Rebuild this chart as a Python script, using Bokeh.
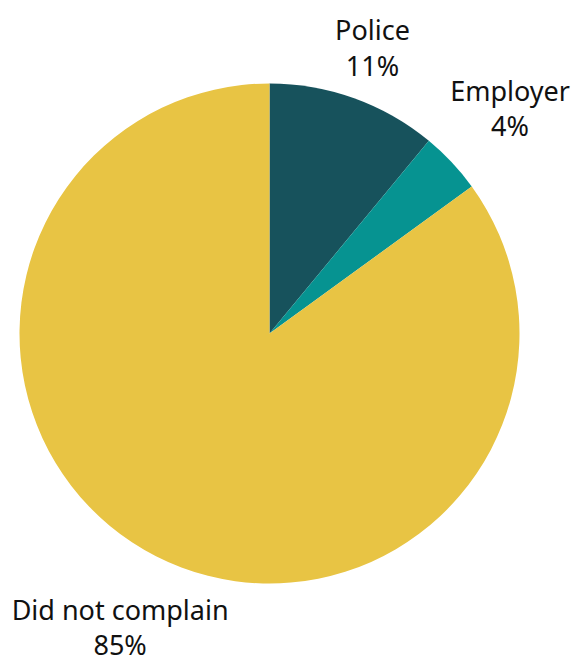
import math
from bokeh.plotting import figure
from bokeh.models import Range1d, ColumnDataSource
from bokeh.core.properties import value
from bokeh.embed import file_html
from bokeh.resources import INLINE

categories = ["Police", "Employer", "Did not complain"]
shares = [11, 4, 85]
colors = ["#17525C", "#069391", "#E8C444"]

W, H = 571, 659
cx, cy, R = 269, H - 333, 250
label_dist = [304, 330, 329]

starts, ends, lx, ly, labels = [], [], [], [], []
cum = 0.0
total = float(sum(shares))
for cat, s, d in zip(categories, shares, label_dist):
    a0 = math.pi / 2 - 2 * math.pi * cum / total
    a1 = math.pi / 2 - 2 * math.pi * (cum + s) / total
    starts.append(a0)
    ends.append(a1)
    mid = (a0 + a1) / 2
    lx.append(cx + d * math.cos(mid))
    ly.append(cy + d * math.sin(mid))
    labels.append(f"{cat}\n{s}%")
    cum += s

src = ColumnDataSource(dict(start=starts, end=ends, color=colors,
                            x=[cx] * 3, y=[cy] * 3))
lsrc = ColumnDataSource(dict(x=lx, y=ly, text=labels))

p = figure(width=W, height=H, x_range=Range1d(0, W), y_range=Range1d(0, H),
           output_backend="svg", toolbar_location=None, min_border=0)
p.axis.visible = False
p.grid.visible = False
p.outline_line_color = None
p.background_fill_color = "white"

p.wedge(x="x", y="y", radius=R, radius_units="data", start_angle="start",
        end_angle="end", direction="clock", fill_color="color",
        line_color=None, source=src)
p.text(x="x", y="y", text="text", source=lsrc, text_align="center",
       text_baseline="middle", text_font=value("Noto Sans"),
       text_font_size="27px", text_color="#111111", text_line_height=0.95)

open("out.html", "w").write(file_html(p, INLINE))
